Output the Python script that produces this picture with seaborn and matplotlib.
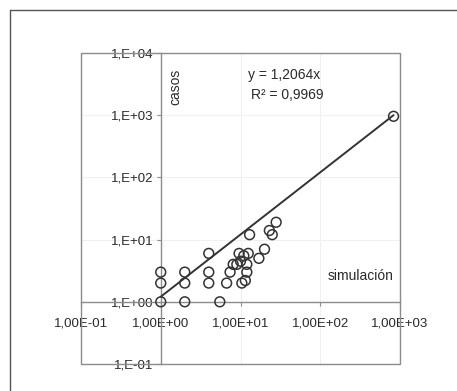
import matplotlib
matplotlib.use("Agg")
import matplotlib.pyplot as plt
import matplotlib.ticker as mticker
from matplotlib.patches import Rectangle
from matplotlib.lines import Line2D
import seaborn as sns
import pandas as pd
import numpy as np

# values (simulación vs casos)
simulacion = [1, 2, 5.5, 1, 1, 2, 2, 4, 4, 4, 6.7, 7.4, 10.4, 9, 9.6, 12, 12, 12.5,
              8.1, 17, 20, 13, 23, 25, 28, 11, 10, 11.5, 830]
casos = [1, 1, 1, 2, 3, 2, 3, 2, 3, 6, 2, 3, 2, 4, 6, 4, 3, 6,
         4, 5, 7, 12, 14, 12, 19, 5.5, 4.5, 2.2, 960]
slope = 1.2064
r2 = 0.9969
x_ticks = [0.1, 1, 10, 100, 1000]
y_ticks = [0.1, 1, 10, 100, 1000, 10000]

df = pd.DataFrame({"simulacion": simulacion, "casos": casos})
fit_x = [1, max(simulacion)]
fit = pd.DataFrame({"x": fit_x, "y": [slope * v for v in fit_x]})

sns.set_style("white")
plt.rcParams["font.family"] = ["Liberation Sans", "DejaVu Sans"]
text_color = "#2a2a2a"
line_gray = "#8c8c8c"

fig = plt.figure(figsize=(4.57, 3.91), dpi=100)
ax = fig.add_axes([81 / 457, 1 - 364 / 391, 319 / 457, 311 / 391])

ax.set_xscale("log")
ax.set_yscale("log")
ax.set_xlim(0.1, 1000)
ax.set_ylim(0.1, 10000)

ax.grid(True, which="major", color="#f0f0f0", linewidth=0.8)

sns.lineplot(data=fit, x="x", y="y", ax=ax, color="#333333", linewidth=1.4, zorder=3)
sns.scatterplot(data=df, x="simulacion", y="casos", ax=ax, s=50, marker="o",
                facecolor="none", edgecolor="#333333", linewidth=1.1, zorder=4)

# axes cross at 1,1
for side in ["top", "right"]:
    ax.spines[side].set_visible(False)
ax.spines["left"].set_position(("data", 1))
ax.spines["bottom"].set_position(("data", 1))
for side in ["left", "bottom"]:
    ax.spines[side].set_color(line_gray)
    ax.spines[side].set_linewidth(1.0)

ax.add_patch(Rectangle((0, 0), 1, 1, transform=ax.transAxes, fill=False,
                       edgecolor=line_gray, linewidth=1.0, clip_on=False, zorder=1))

ax.xaxis.set_major_locator(mticker.FixedLocator(x_ticks))
ax.yaxis.set_major_locator(mticker.FixedLocator(y_ticks))
ax.xaxis.set_minor_locator(mticker.NullLocator())
ax.yaxis.set_minor_locator(mticker.NullLocator())
ax.xaxis.set_major_formatter(mticker.FuncFormatter(
    lambda v, _: "1,00E{:+03d}".format(int(round(np.log10(v))))))
ax.yaxis.set_major_formatter(mticker.FuncFormatter(
    lambda v, _: "1,E{:+03d}".format(int(round(np.log10(v))))))
ax.tick_params(axis="both", which="major", direction="out", length=3, width=0.8,
               color=line_gray, labelsize=9.5, labelcolor=text_color, pad=2,
               left=True, bottom=True)
ax.tick_params(axis="x", pad=8)

ax.set_xlabel("")
ax.set_ylabel("")

ax.text(1.25, 5500, "casos", rotation=90, ha="left", va="top", fontsize=10, color=text_color)
ax.text(830, 2.6, "simulación", ha="right", va="center", fontsize=10, color=text_color)
ax.text(12.5, 4400, "y = 1,2064x", ha="left", va="center", fontsize=10, color=text_color)
ax.text(13.5, 2100, "R² = 0,9969", ha="left", va="center", fontsize=10, color=text_color)

# outer frame of the figure
fig.add_artist(Line2D([10 / 457, 10 / 457], [0, 1 - 10 / 391], transform=fig.transFigure,
                      color="#555555", linewidth=1.0))
fig.add_artist(Line2D([10 / 457, 1], [1 - 10 / 391, 1 - 10 / 391], transform=fig.transFigure,
                      color="#555555", linewidth=1.0))

fig.savefig("out.png", dpi=100)
